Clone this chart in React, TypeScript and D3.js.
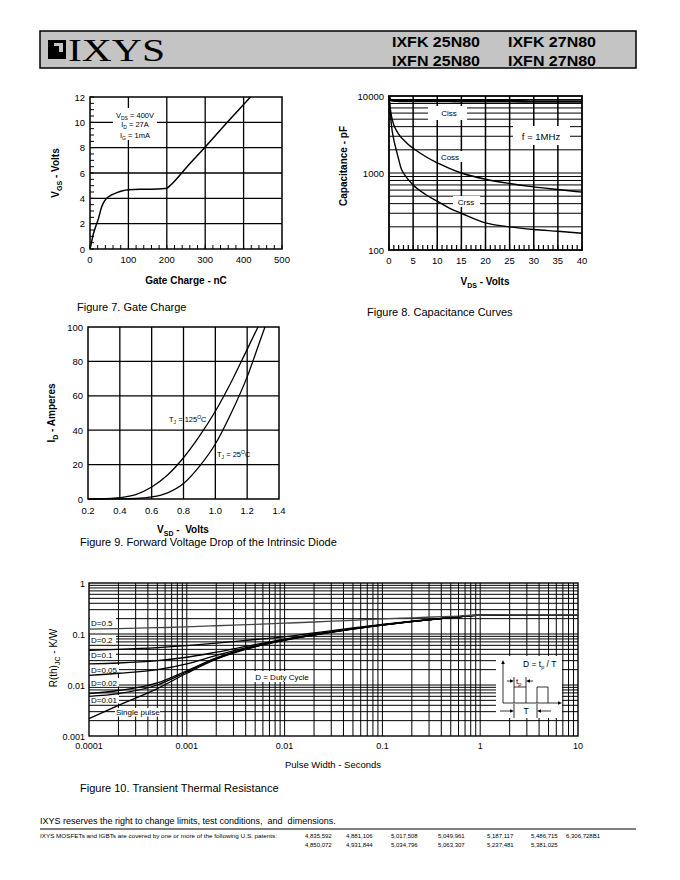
import React from "react";
import * as d3 from "d3";

const FONT = "'Liberation Sans', Arial, Helvetica, sans-serif";

// ---------- Figure 7: Gate charge ----------
const gateCharge = [0, 3, 8, 14, 22, 30, 38, 45, 55, 70, 85, 100, 130, 160, 195, 200, 210, 250, 300, 350, 400, 418];
const gateVolts = [0, 0.4, 1.1, 1.7, 2.4, 3.3, 3.8, 4.05, 4.25, 4.45, 4.6, 4.68, 4.72, 4.72, 4.78, 4.8, 5.05, 6.4, 8.05, 9.75, 11.4, 12.0];
const gateXTicks = [0, 100, 200, 300, 400, 500];
const gateYTicks = [0, 2, 4, 6, 8, 10, 12];

// ---------- Figure 8: Capacitance ----------
const capVds = [0, 0.25, 0.5, 1, 1.5, 2, 2.5, 3, 4, 5, 7.5, 10, 12.5, 15, 20, 25, 30, 35, 40];
const cissPf = [10000, 9000, 8800, 8700, 8700, 8650, 8650, 8650, 8600, 8600, 8600, 8600, 8600, 8550, 8550, 8550, 8500, 8500, 8500];
const cossPf = [10000, 7000, 5500, 4200, 3600, 3200, 2900, 2700, 2350, 2100, 1650, 1350, 1150, 1000, 830, 730, 660, 610, 565];
const crssPf = [10000, 6500, 4200, 2700, 2000, 1500, 1150, 1000, 820, 700, 530, 430, 350, 300, 225, 200, 185, 175, 165];
const capXTicks = [0, 5, 10, 15, 20, 25, 30, 35, 40];
const capYTicks = [100, 1000, 10000];

// ---------- Figure 9: Diode forward voltage ----------
const diodeV125 = [0.2, 0.3, 0.4, 0.5, 0.6, 0.7, 0.8, 0.9, 1.0, 1.1, 1.2, 1.268];
const diodeI125 = [0, 0.2, 0.8, 2.6, 7, 14, 24, 36.5, 51, 68, 87, 100];
const diodeV25 = [0.2, 0.4, 0.5, 0.6, 0.7, 0.8, 0.9, 1.0, 1.1, 1.2, 1.3, 1.312];
const diodeI25 = [0, 0.1, 0.3, 1.2, 3.6, 9, 19, 32, 50, 71, 97, 100];
const diodeXTicks = [0.2, 0.4, 0.6, 0.8, 1.0, 1.2, 1.4];
const diodeYTicks = [0, 20, 40, 60, 80, 100];

// ---------- Figure 10: Transient thermal resistance ----------
const pulseWidth = [1e-4, 2e-4, 5e-4, 1e-3, 2e-3, 5e-3, 1e-2, 2e-2, 5e-2, 0.1, 0.2, 0.5, 1, 2, 5, 10];
const zSingle = [0.0022, 0.004, 0.0085, 0.017, 0.032, 0.056, 0.075, 0.095, 0.125, 0.15, 0.175, 0.21, 0.235, 0.24, 0.24, 0.24];
const zD001 = [0.006, 0.0068, 0.01, 0.018, 0.033, 0.057, 0.076, 0.096, 0.126, 0.15, 0.175, 0.21, 0.235, 0.24, 0.24, 0.24];
const zD002 = [0.0068, 0.0078, 0.011, 0.019, 0.034, 0.057, 0.076, 0.096, 0.126, 0.15, 0.175, 0.21, 0.235, 0.24, 0.24, 0.24];
const zD005 = [0.0155, 0.017, 0.02, 0.026, 0.038, 0.059, 0.077, 0.097, 0.127, 0.151, 0.176, 0.21, 0.235, 0.24, 0.24, 0.24];
const zD01 = [0.026, 0.027, 0.03, 0.035, 0.044, 0.062, 0.079, 0.099, 0.128, 0.152, 0.177, 0.21, 0.235, 0.24, 0.24, 0.24];
const zD02 = [0.048, 0.05, 0.054, 0.059, 0.066, 0.078, 0.088, 0.105, 0.132, 0.155, 0.178, 0.21, 0.235, 0.24, 0.24, 0.24];
const zD05 = [0.125, 0.128, 0.133, 0.138, 0.145, 0.155, 0.163, 0.172, 0.185, 0.198, 0.208, 0.222, 0.236, 0.24, 0.24, 0.24];
const thermalXTicks = [1e-4, 1e-3, 1e-2, 0.1, 1, 10];
const thermalXLabels = ["0.0001", "0.001", "0.01", "0.1", "1", "10"];
const thermalYTicks = [0.001, 0.01, 0.1, 1];
const thermalYLabels = ["0.001", "0.01", "0.1", "1"];
const dutyLabels = ["D=0.5", "D=0.2", "D=0.1", "D=0.05", "D=0.02", "D=0.01"];

const patentsRow1 = ["4,835,592", "4,881,106", "5,017,508", "5,049,961", "5,187,117", "5,486,715", "6,306,728B1"];
const patentsRow2 = ["4,850,072", "4,931,844", "5,034,796", "5,063,307", "5,237,481", "5,381,025"];

type P = [number, number];
const zip = (a: number[], b: number[]): P[] => a.map((v, i) => [v, b[i]] as P);

function GateCharge() {
  const x = d3.scaleLinear().domain([0, 500]).range([90, 282]);
  const y = d3.scaleLinear().domain([0, 12]).range([249, 97]);
  const line = d3.line<P>().x(d => x(d[0])).y(d => y(d[1])).curve(d3.curveMonotoneX);
  const minorX = d3.range(0, 501, 20);
  const minorY = d3.range(0, 12.01, 0.5);
  return (
    <g fontFamily={FONT}>
      {gateXTicks.slice(1, -1).map(t => (
        <line key={"gx" + t} x1={x(t)} x2={x(t)} y1={y(0)} y2={y(12)} stroke="#000" strokeWidth={1.3} />
      ))}
      {gateYTicks.slice(1, -1).map(t => (
        <line key={"gy" + t} x1={x(0)} x2={x(500)} y1={y(t)} y2={y(t)} stroke="#000" strokeWidth={1.3} />
      ))}
      {minorX.map(t => (
        <line key={"mx" + t} x1={x(t)} x2={x(t)} y1={y(0)} y2={y(0) - 4} stroke="#000" strokeWidth={1} />
      ))}
      {minorY.map(t => (
        <line key={"my" + t} x1={x(0)} x2={x(0) + 4} y1={y(t)} y2={y(t)} stroke="#000" strokeWidth={1} />
      ))}
      <rect x={x(0)} y={y(12)} width={x(500) - x(0)} height={y(0) - y(12)} fill="none" stroke="#000" strokeWidth={1.5} />
      <rect x={113} y={108} width={44} height={32} fill="#fff" />
      <path d={line(zip(gateCharge, gateVolts)) || ""} fill="none" stroke="#000" strokeWidth={1.5} />
      <g fontSize={7.5} textAnchor="middle">
        <text x={135} y={118}>V<tspan fontSize={5} dy={1.5}>DS</tspan><tspan dy={-1.5}> = 400V</tspan></text>
        <text x={135} y={127}>I<tspan fontSize={5} dy={1.5}>D</tspan><tspan dy={-1.5}> = 27A</tspan></text>
        <text x={135} y={138}>I<tspan fontSize={5} dy={1.5}>G</tspan><tspan dy={-1.5}> = 1mA</tspan></text>
      </g>
      <g fontSize={9.5}>
        {gateXTicks.map(t => (
          <text key={"xl" + t} x={x(t)} y={263} textAnchor="middle">{t}</text>
        ))}
        {gateYTicks.map(t => (
          <text key={"yl" + t} x={85} y={y(t) + 3.5} textAnchor="end">{t}</text>
        ))}
      </g>
      <text x={186} y={284} textAnchor="middle" fontSize={10} fontWeight="bold">Gate Charge - nC</text>
      <text transform="translate(59,173) rotate(-90)" textAnchor="middle" fontSize={10} fontWeight="bold">
        V<tspan fontSize={7} dy={3}>GS</tspan><tspan dy={-3}> - Volts</tspan>
      </text>
      <text x={77} y={311} fontSize={11}>Figure 7. Gate Charge</text>
    </g>
  );
}

function Capacitance() {
  const x = d3.scaleLinear().domain([0, 40]).range([389, 582]);
  const y = d3.scaleLog().domain([100, 10000]).range([250, 96]);
  const line = d3.line<P>().x(d => x(d[0])).y(d => y(d[1])).curve(d3.curveMonotoneX);
  const hGrid = y.ticks().filter(v => v > 100 && v < 10000);
  const minorX = d3.range(0, 41, 1);
  return (
    <g fontFamily={FONT}>
      {hGrid.map(v => (
        <line key={"h" + v} x1={x(0)} x2={x(40)} y1={y(v)} y2={y(v)} stroke="#000" strokeWidth={1} />
      ))}
      {capXTicks.slice(1, -1).map(t => (
        <line key={"v" + t} x1={x(t)} x2={x(t)} y1={y(100)} y2={y(10000)} stroke="#000" strokeWidth={1.5} />
      ))}
      {minorX.map(t => (
        <line key={"m" + t} x1={x(t)} x2={x(t)} y1={y(100)} y2={y(100) - 5} stroke="#000" strokeWidth={1.2} />
      ))}
      <rect x={x(0)} y={y(10000)} width={x(40) - x(0)} height={y(100) - y(10000)} fill="none" stroke="#000" strokeWidth={1.8} />
      <rect x={428} y={106} width={39} height={14} fill="#fff" />
      <rect x={513} y={126} width={57} height={19} fill="#fff" />
      <rect x={438} y={151} width={25} height={11} fill="#fff" />
      <rect x={453} y={196} width={27} height={11} fill="#fff" />
      <path d={line(zip(capVds, cissPf)) || ""} fill="none" stroke="#000" strokeWidth={2.6} />
      <path d={line(zip(capVds, cossPf)) || ""} fill="none" stroke="#000" strokeWidth={1.4} />
      <path d={line(zip(capVds, crssPf)) || ""} fill="none" stroke="#000" strokeWidth={1.4} />
      <g fontSize={8} textAnchor="middle">
        <text x={449} y={116}>Ciss</text>
        <text x={450} y={160}>Coss</text>
        <text x={466} y={205}>Crss</text>
      </g>
      <text x={541} y={139.5} fontSize={9.5} textAnchor="middle">f = 1MHz</text>
      <g fontSize={9.5}>
        {capXTicks.map(t => (
          <text key={"xl" + t} x={x(t)} y={264} textAnchor="middle">{t}</text>
        ))}
        {capYTicks.map(t => (
          <text key={"yl" + t} x={384} y={y(t) + 3.5} textAnchor="end">{t}</text>
        ))}
      </g>
      <text x={485} y={285} textAnchor="middle" fontSize={10} fontWeight="bold">
        V<tspan fontSize={7} dy={3}>DS</tspan><tspan dy={-3}> - Volts</tspan>
      </text>
      <text transform="translate(347,166) rotate(-90)" textAnchor="middle" fontSize={10} fontWeight="bold">Capacitance - pF</text>
      <text x={367} y={316} fontSize={11}>Figure 8. Capacitance Curves</text>
    </g>
  );
}

function DiodeVf() {
  const x = d3.scaleLinear().domain([0.2, 1.4]).range([88, 279]);
  const y = d3.scaleLinear().domain([0, 100]).range([499, 327]);
  const line = d3.line<P>().x(d => x(d[0])).y(d => y(d[1])).curve(d3.curveMonotoneX);
  return (
    <g fontFamily={FONT}>
      {diodeXTicks.slice(1, -1).map(t => (
        <line key={"v" + t} x1={x(t)} x2={x(t)} y1={y(0)} y2={y(100)} stroke="#000" strokeWidth={1.3} />
      ))}
      {diodeYTicks.slice(1, -1).map(t => (
        <line key={"h" + t} x1={x(0.2)} x2={x(1.4)} y1={y(t)} y2={y(t)} stroke="#000" strokeWidth={1.3} />
      ))}
      <rect x={x(0.2)} y={y(100)} width={x(1.4) - x(0.2)} height={y(0) - y(100)} fill="none" stroke="#000" strokeWidth={1.5} />
      <path d={line(zip(diodeV125, diodeI125)) || ""} fill="none" stroke="#000" strokeWidth={1.3} />
      <path d={line(zip(diodeV25, diodeI25)) || ""} fill="none" stroke="#000" strokeWidth={1.3} />
      <g fontSize={7.5}>
        <text x={169} y={422}>T<tspan fontSize={5} dy={1.5}>J</tspan><tspan dy={-1.5}> = 125</tspan><tspan fontSize={5} dy={-3}>O</tspan><tspan dy={3}>C</tspan></text>
        <text x={217} y={457}>T<tspan fontSize={5} dy={1.5}>J</tspan><tspan dy={-1.5}> = 25</tspan><tspan fontSize={5} dy={-3}>O</tspan><tspan dy={3}>C</tspan></text>
      </g>
      <g fontSize={9.5}>
        {diodeXTicks.map(t => (
          <text key={"xl" + t} x={x(t)} y={514} textAnchor="middle">{t.toFixed(1)}</text>
        ))}
        {diodeYTicks.map(t => (
          <text key={"yl" + t} x={83} y={y(t) + 3.5} textAnchor="end">{t}</text>
        ))}
      </g>
      <text x={183} y={533} textAnchor="middle" fontSize={10} fontWeight="bold" style={{ whiteSpace: "pre" }}>
        V<tspan fontSize={7} dy={3}>SD</tspan><tspan dy={-3}>{" -  Volts"}</tspan>
      </text>
      <text transform="translate(55,413) rotate(-90)" textAnchor="middle" fontSize={10} fontWeight="bold">
        I<tspan fontSize={7} dy={3}>D</tspan><tspan dy={-3}> - Amperes</tspan>
      </text>
      <text x={80} y={546} fontSize={11}>Figure 9. Forward Voltage Drop of the Intrinsic Diode</text>
    </g>
  );
}

function Arrow({ x1, y1, x2, y2 }: { x1: number; y1: number; x2: number; y2: number }) {
  const a = Math.atan2(y2 - y1, x2 - x1);
  const L = 4, W = 1.8;
  const bx = x2 - L * Math.cos(a), by = y2 - L * Math.sin(a);
  const px = -Math.sin(a) * W, py = Math.cos(a) * W;
  return (
    <g>
      <line x1={x1} y1={y1} x2={bx} y2={by} stroke="#000" strokeWidth={0.8} />
      <polygon points={`${x2},${y2} ${bx + px},${by + py} ${bx - px},${by - py}`} fill="#000" />
    </g>
  );
}

function Thermal() {
  const x = d3.scaleLog().domain([1e-4, 10]).range([89, 578]);
  const y = d3.scaleLog().domain([0.001, 1]).range([736, 583]);
  const line = d3.line<P>().x(d => x(d[0])).y(d => y(d[1])).curve(d3.curveMonotoneX);
  const vGrid = x.ticks().filter(v => v > 1e-4 * 1.001 && v < 10 * 0.999);
  const hGrid = y.ticks().filter(v => v > 0.001 * 1.001 && v < 0.999);
  const series = [zSingle, zD001, zD002, zD005, zD01, zD02];
  const labelY = [624, 641, 656, 671, 684, 701];
  const labelW = [26, 26, 26, 29, 29, 29];
  return (
    <g fontFamily={FONT}>
      {vGrid.map((v, i) => (
        <line key={"v" + i} x1={x(v)} x2={x(v)} y1={y(0.001)} y2={y(1)} stroke="#000" strokeWidth={1} />
      ))}
      {hGrid.map((v, i) => (
        <line key={"h" + i} x1={x(1e-4)} x2={x(10)} y1={y(v)} y2={y(v)} stroke="#000" strokeWidth={1} />
      ))}
      <rect x={x(1e-4)} y={y(1)} width={x(10) - x(1e-4)} height={y(0.001) - y(1)} fill="none" stroke="#000" strokeWidth={1.4} />
      {dutyLabels.map((d, i) => (
        <rect key={"lb" + i} x={90} y={labelY[i] - 6} width={labelW[i]} height={8.5} fill="#fff" />
      ))}
      <rect x={115} y={708} width={45} height={8.5} fill="#fff" />
      <rect x={253} y={671} width={58} height={11} fill="#fff" />
      {series.map((s, i) => (
        <path key={"s" + i} d={line(zip(pulseWidth, s)) || ""} fill="none" stroke="#000" strokeWidth={1.3} />
      ))}
      <path d={line(zip(pulseWidth, zD05)) || ""} fill="none" stroke="#444" strokeWidth={1.3} />
      <g fontSize={8}>
        {dutyLabels.map((d, i) => (
          <text key={"lt" + i} x={91} y={labelY[i] + 1.5}>{d}</text>
        ))}
        <text x={116} y={715}>Single pulse</text>
        <text x={282} y={679.5} textAnchor="middle">D = Duty Cycle</text>
      </g>
      {/* inset */}
      <rect x={496} y={656} width={66} height={62} fill="#fff" />
      <Arrow x1={503} y1={703} x2={503} y2={660} />
      <Arrow x1={503} y1={703} x2={562} y2={703} />
      <polyline points="514,703 514,687 526,687 526,703" fill="none" stroke="#000" strokeWidth={0.8} />
      <polyline points="537,703 537,687 548,687 548,703" fill="none" stroke="#000" strokeWidth={0.8} />
      <line x1={514} y1={687} x2={514} y2={677} stroke="#000" strokeWidth={0.8} />
      <line x1={526} y1={687} x2={526} y2={677} stroke="#000" strokeWidth={0.8} />
      <Arrow x1={507} y1={681} x2={514} y2={681} />
      <Arrow x1={533} y1={681} x2={526} y2={681} />
      <text x={516} y={684} fontSize={8}>t<tspan fontSize={5.5} dy={1.5}>p</tspan></text>
      <text x={523} y={667} fontSize={8.5}>D = t<tspan fontSize={5.5} dy={1.5}>p</tspan><tspan dy={-1.5}> / T</tspan></text>
      <line x1={514} y1={704} x2={514} y2={718} stroke="#000" strokeWidth={0.8} />
      <line x1={537} y1={704} x2={537} y2={718} stroke="#000" strokeWidth={0.8} />
      <Arrow x1={500} y1={711} x2={514} y2={711} />
      <Arrow x1={551} y1={711} x2={537} y2={711} />
      <text x={526} y={714} fontSize={8.5} textAnchor="middle">T</text>
      <g fontSize={9}>
        {thermalXTicks.map((t, i) => (
          <text key={"xl" + i} x={x(t)} y={749} textAnchor="middle">{thermalXLabels[i]}</text>
        ))}
        {thermalYTicks.map((t, i) => (
          <text key={"yl" + i} x={85} y={y(t) + 3.5} textAnchor="end">{thermalYLabels[i]}</text>
        ))}
      </g>
      <text x={333} y={768} textAnchor="middle" fontSize={9.5}>Pulse Width - Seconds</text>
      <text transform="translate(57,658) rotate(-90)" textAnchor="middle" fontSize={10}>
        R(th)<tspan fontSize={7} dy={3}>JC</tspan><tspan dy={-3}> - K/W</tspan>
      </text>
      <text x={80} y={792} fontSize={11}>Figure 10. Transient Thermal Resistance</text>
    </g>
  );
}

function Header() {
  return (
    <g>
      <rect x={40} y={31} width={596} height={37} fill="#c4c4c4" stroke="#000" strokeWidth={1.5} />
      <rect x={48} y={40} width={18} height={19} fill="#000" />
      <rect x={54} y={43} width={9} height={9} fill="#c4c4c4" />
      <rect x={54} y={46} width={5} height={6} fill="#000" />
      <text x={68} y={61} fontFamily="'Liberation Serif', 'Times New Roman', serif" fontSize={32} textLength={97} lengthAdjust="spacingAndGlyphs">IXYS</text>
      <g fontFamily={FONT} fontWeight="bold" fontSize={14.5} style={{ whiteSpace: "pre" }}>
        <text x={392} y={47} textLength={88} lengthAdjust="spacingAndGlyphs">{"IXFK  25N80"}</text>
        <text x={392} y={66} textLength={88} lengthAdjust="spacingAndGlyphs">{"IXFN  25N80"}</text>
        <text x={508} y={47} textLength={88} lengthAdjust="spacingAndGlyphs">{"IXFK  27N80"}</text>
        <text x={508} y={66} textLength={88} lengthAdjust="spacingAndGlyphs">{"IXFN  27N80"}</text>
      </g>
    </g>
  );
}

function Footer() {
  const cols = [305, 346, 391, 438, 487, 531, 566];
  return (
    <g fontFamily={FONT}>
      <text x={40} y={824} fontSize={9} style={{ whiteSpace: "pre" }}>{"IXYS reserves the right to change limits, test conditions,  and  dimensions."}</text>
      <line x1={40} x2={636} y1={829} y2={829} stroke="#000" strokeWidth={1} />
      <text x={40} y={838} fontSize={6} textLength={237} lengthAdjust="spacingAndGlyphs">IXYS MOSFETs and IGBTs are covered by one or more of the following U.S. patents:</text>
      {patentsRow1.map((p, i) => (
        <text key={"p1" + i} x={cols[i]} y={838} fontSize={6}>{p}</text>
      ))}
      {patentsRow2.map((p, i) => (
        <text key={"p2" + i} x={cols[i]} y={847} fontSize={6}>{p}</text>
      ))}
    </g>
  );
}

export default function App() {
  return (
    <svg width={680} height={880} viewBox="0 0 680 880" style={{ position: "absolute", left: 0, top: 0, background: "#fff" }}>
      <rect x={0} y={0} width={680} height={880} fill="#fff" />
      <Header />
      <GateCharge />
      <Capacitance />
      <DiodeVf />
      <Thermal />
      <Footer />
    </svg>
  );
}
